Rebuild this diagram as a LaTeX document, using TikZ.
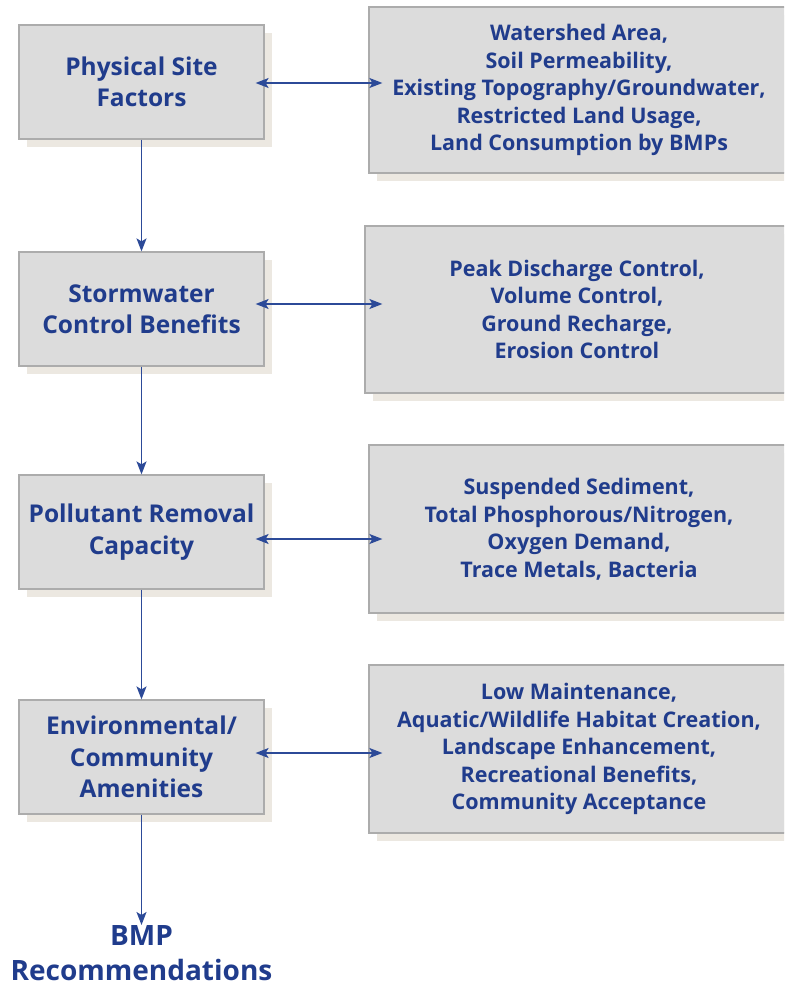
\documentclass[tikz,border=0pt]{standalone}
\usepackage{fontspec}
\setmainfont{Open Sans}
\usetikzlibrary{arrows.meta,shadows}
\definecolor{bmpblue}{RGB}{32,60,140}
\definecolor{linkblue}{RGB}{44,74,152}
\definecolor{boxgray}{RGB}{220,220,220}
\definecolor{boxrule}{RGB}{172,172,172}
\definecolor{shade}{RGB}{236,232,225}
\tikzset{
  factor/.style={draw=boxrule,line width=1.2pt,fill=boxgray,inner sep=0pt,
    minimum width=245pt,minimum height=114pt,align=center,text=bmpblue,
    font=\fontsize{24.5}{31.5}\selectfont\bfseries,
    drop shadow={shadow xshift=8pt,shadow yshift=-8pt,fill=shade,opacity=1}},
  detail/.style={factor,minimum width=420pt,minimum height=166pt,
    font=\fontsize{21.5}{27.5}\selectfont\bfseries},
  flow/.style={-{Stealth[length=13pt,width=10pt,inset=3pt]},draw=linkblue,line width=1.5pt},
  twoway/.style={{Stealth[length=13pt,width=10pt,inset=3pt]}-{Stealth[length=13pt,width=10pt,inset=3pt]},draw=linkblue,line width=1.5pt}
}
\begin{document}
\begin{tikzpicture}[x=1pt,y=-1pt]
\useasboundingbox (0,0) rectangle (784,992);
\clip (0,0) rectangle (784,992);
\node[factor] (phys) at (141.5,82) {Physical Site\\Factors};
\node[factor] (storm) at (141.5,309) {Stormwater\\Control Benefits};
\node[factor] (pollut) at (141.5,532) {Pollutant Removal\\Capacity};
\node[factor] (amen) at (141.5,757) {Environmental/\\Community\\Amenities};
\node[detail] (site) at (579,90) {Watershed Area,\\Soil Permeability,\\Existing Topography/Groundwater,\\Restricted Land Usage,\\Land Consumption by BMPs};
\node[detail,minimum width=424pt,minimum height=167pt] (control) at (577,309.5) {Peak Discharge Control,\\Volume Control,\\Ground Recharge,\\Erosion Control};
\node[detail,minimum height=168pt] (removal) at (579,529) {Suspended Sediment,\\Total Phosphorous/Nitrogen,\\Oxygen Demand,\\Trace Metals, Bacteria};
\node[detail,minimum height=168pt] (amenity) at (579,749) {Low Maintenance,\\Aquatic/Wildlife Habitat Creation,\\Landscape Enhancement,\\Recreational Benefits,\\Community Acceptance};
\node[anchor=north,inner sep=0pt,align=center,text=bmpblue,font=\fontsize{28}{35}\selectfont\bfseries] (recs) at (141.5,925) {BMP\\Recommendations};
\draw[flow] (phys) -- (storm);
\draw[flow] (storm) -- (pollut);
\draw[flow] (pollut) -- (amen);
\draw[flow] (amen) -- (recs);
\draw[twoway] ([shift={(-9,1)}]phys.east) -- ([shift={(14,1)}]phys.east -| site.west);
\draw[twoway] ([shift={(-9,-5)}]storm.east) -- ([shift={(18,-5)}]storm.east -| control.west);
\draw[twoway] ([shift={(-9,7)}]pollut.east) -- ([shift={(14,7)}]pollut.east -| removal.west);
\draw[twoway] ([shift={(-9,-4)}]amen.east) -- ([shift={(14,-4)}]amen.east -| amenity.west);
\end{tikzpicture}
\end{document}
